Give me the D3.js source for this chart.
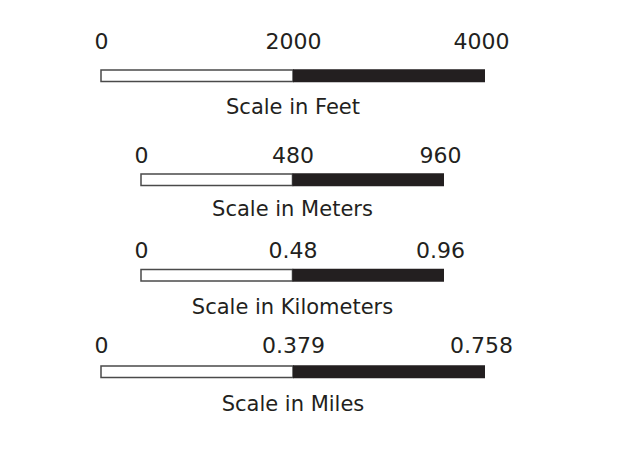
<!DOCTYPE html>
<html>
<head>
<meta charset="utf-8">
<script src="https://cdn.jsdelivr.net/npm/d3@7"></script>
<style>
body { margin: 0; background: #fff; }
</style>
</head>
<body>
<div id="chart"></div>
<script>
// scale bar data
var units = ["Feet", "Meters", "Kilometers", "Miles"];
var maxValues = [4000, 960, 0.96, 0.758];
var tickLabels = [
	["0", "2000", "4000"],
	["0", "480", "960"],
	["0", "0.48", "0.96"],
	["0", "0.379", "0.758"]
];

// layout for each bar: x range, bar top, label baseline, title baseline
var layout = [
	{x0: 101, x1: 485, barY: 70, labelY: 49, titleY: 114},
	{x0: 141, x1: 444, barY: 174, labelY: 163, titleY: 216},
	{x0: 141, x1: 444, barY: 269.5, labelY: 258, titleY: 314},
	{x0: 101, x1: 485, barY: 366, labelY: 353, titleY: 411}
];

var width = 635, height = 449;
var barH = 11.5;
var ink = "#231f20";

var svg = d3.select("#chart")
	.append("svg")
	.attr("width", width)
	.attr("height", height);

units.forEach(function(unit, i){
	var lay = layout[i];
	var max = maxValues[i];
	var x = d3.scaleLinear()
		.domain([0, max])
		.range([lay.x0, lay.x1]);

	var g = svg.append("g");

	// white half
	g.append("rect")
		.attr("x", x(0))
		.attr("y", lay.barY)
		.attr("width", x(max / 2) - x(0))
		.attr("height", barH)
		.style("fill", "#fff")
		.style("stroke", "#4a4a4a")
		.style("stroke-width", 1.5);

	// black half
	g.append("rect")
		.attr("x", x(max / 2))
		.attr("y", lay.barY - 0.75)
		.attr("width", x(max) - x(max / 2))
		.attr("height", barH + 1.5)
		.style("fill", ink);

	// labels via axis
	var axis = d3.axisTop(x)
		.tickValues([0, max / 2, max])
		.tickSize(0)
		.tickPadding(0)
		.tickFormat(function(d, j){ return tickLabels[i][j]; });

	var ax = g.append("g")
		.attr("transform", "translate(0," + lay.labelY + ")")
		.call(axis);
	ax.select(".domain").remove();
	ax.selectAll("text")
		.attr("font-family", "DejaVu Sans")
		.attr("font-size", "22px")
		.style("fill", ink)
		.attr("dx", function(d, j){ return j === 2 ? -4 : 0; });
	ax.attr("font-family", "DejaVu Sans").attr("font-size", "22px");

	g.append("text")
		.attr("x", x(max / 2))
		.attr("y", lay.titleY)
		.style("text-anchor", "middle")
		.style("font-family", "DejaVu Sans")
		.style("font-size", "21px")
		.style("fill", ink)
		.text("Scale in " + unit);
});
</script>
</body>
</html>
